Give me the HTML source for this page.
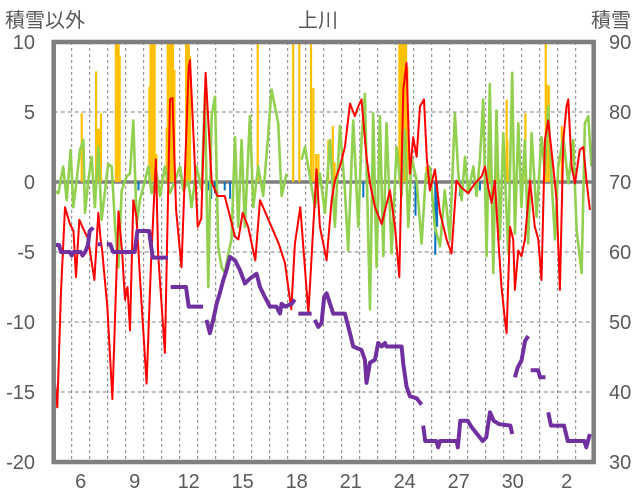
<!DOCTYPE html>
<html><head><meta charset="utf-8">
<style>
html,body{margin:0;padding:0;background:#fff;}
svg{display:block;}
text{font-family:"Liberation Sans","Noto Sans CJK JP",sans-serif;fill:#595959;font-size:20px;}
</style></head>
<body>
<svg id="chart" width="636" height="501" viewBox="0 0 636 501" xmlns="http://www.w3.org/2000/svg">
  <text x="5" y="27">積雪以外</text>
  <text x="318" y="27" text-anchor="middle">上川</text>
  <text x="631" y="27" text-anchor="end">積雪</text>
  <g id="grid"></g>
  <g id="bars"></g>
  <g id="lines"></g>
  <g id="axes"></g>
</svg>
<script>
// ---- data ----
const leftTicks = [10, 5, 0, -5, -10, -15, -20];
const rightTicks = [90, 80, 70, 60, 50, 40, 30];
const dayLabels = ["6","9","12","15","18","21","24","27","30","2"];
const dayLabelPos = [1,4,7,10,13,16,19,22,25,28]; // day index from start (day 5 = 0)

const redT = [0,0.2,0.4,0.63,0.9,1.1,1.24,1.42,1.7,1.9,2.26,2.48,2.6,2.7,2.98,3.26,3.6,3.8,3.96,4.1,4.24,4.42,4.6,4.8,5.16,5.4,5.68,5.8,6.18,6.46,6.6,6.8,7.1,7.5,7.57,8.0,8.2,8.44,8.78,9.1,9.5,9.8,10.07,10.26,10.5,10.8,11.2,11.46,11.7,12.1,12.5,12.85,13.2,13.4,13.7,14.15,14.6,14.79,15.16,15.44,15.62,15.9,16.18,16.46,16.73,16.92,17.1,17.38,17.57,17.85,18.22,18.68,18.96,19.2,19.42,19.6,19.79,19.97,20.16,20.35,20.57,20.72,20.9,21.18,21.46,21.83,22.1,22.38,22.66,23.03,23.4,23.77,23.96,24.14,24.33,24.51,24.7,24.88,25.07,25.16,25.35,25.53,25.62,25.81,25.99,26.18,26.46,26.73,26.92,27.1,27.29,27.47,27.75,27.94,28.12,28.31,28.49,28.59,28.77,28.96,29.23,29.42,29.6,29.79];
const redV = [-13.4,-16.1,-8,-1.8,-3,-3.5,-6.8,-2.7,-3.5,-4,-7,-2.2,-4,-5,-8.9,-15.5,-2.1,-5,-8.4,-7.5,-10.6,-1.3,-2.5,-7,-14.4,-6,1.6,-5.1,-12.2,5.9,6,-2,-6.1,8.2,8.7,-3.2,-2.6,7.8,0,-1,-1,-2.5,-3.9,-4.1,-2.2,-3.2,-5.6,-1.3,-2,-3.2,-4.4,-5.8,-9.1,-4.4,-1.8,-9.4,0.9,-3.2,-5.6,-1.3,0.1,1.1,2.5,5.6,4.7,5.4,5.9,1.8,-0.1,-1.8,-3,-0.6,-3.2,-6.8,6.6,8.5,0.6,3.2,1.8,5.4,5.9,1.8,-0.6,0.9,-2.2,-4.1,-5.1,0.1,-0.4,-0.8,-0.1,0.4,1.1,-0.4,-1.5,0.1,-4.1,-7.5,-9.9,-10.8,-3.2,-4.1,-7.7,-4.9,-5.3,-4.1,0.1,-3.2,-4.1,-7,3,4.4,1.1,-1.3,-7.7,3,5.4,5.9,1.1,-0.1,2.3,2.5,0.1,-2.0];

const greenT = [0,0.26,0.53,0.72,0.94,1.09,1.27,1.46,1.65,1.74,1.92,2.11,2.29,2.48,2.66,3.03,3.22,3.41,3.59,3.78,4.05,4.24,4.42,4.61,4.79,5.07,5.26,5.44,5.72,5.91,6.18,6.46,6.74,7.02,7.2,7.48,7.66,7.94,8.22,8.4,8.59,8.77,8.96,9.14,9.33,9.51,9.7,9.88,10.07,10.25,10.44,10.62,10.9,11.09,11.36,11.64,11.92,12.1,12.29,12.47,12.66,12.94,13.3,13.77,13.96,14.14,14.51,14.79,15.07,15.35,15.62,15.9,16.18,16.36,16.64,16.92,17.1,17.29,17.48,17.57,17.75,17.94,18.12,18.31,18.49,18.77,19.05,19.33,19.51,19.7,19.88,20.16,20.44,20.68,20.9,21.18,21.46,21.73,22.01,22.29,22.48,22.66,22.85,23.03,23.31,23.49,23.68,23.86,24.05,24.23,24.42,24.6,24.79,24.98,25.25,25.47,25.62,25.81,25.99,26.18,26.36,26.55,26.83,27.1,27.29,27.47,27.66,27.85,28.03,28.31,28.59,28.86,29.05,29.33,29.51,29.7,29.88];
const greenV = [-0.6,-0.8,1.1,-1.3,2.3,-1.8,0.1,2.3,3.0,-2.2,0.1,1.8,-1.8,2.5,-2.7,1.3,1.1,-3.2,-6.1,-0.6,0.4,0.6,4.4,-3.0,-1.3,0.1,1.1,-0.8,0.6,-1.0,1.1,-0.8,0.1,1.1,-0.6,0.1,-1.8,1.1,-0.6,6.3,-7.5,4.7,6.1,-4.6,-6.1,-6.5,-5.1,-4.1,3.2,-3.2,3.0,-3.2,4.7,-1.8,1.1,-1.0,3.5,6.6,5.4,4.2,-1.0,0.6,null,1.6,2.5,1.1,-1.8,0.6,-2.2,3.0,-3.2,4.0,-0.6,-4.9,4.4,-3.2,3.0,6.3,-4.1,-9.1,4.9,-6.1,4.7,-5.3,4.2,-5.1,2.5,-1.0,3.7,-3.2,1.8,0.1,-4.4,0.6,1.1,-3.2,-4.6,-0.6,-4.1,4.9,0.6,-1.3,1.8,-0.8,1.1,-1.0,1.6,5.9,-5.3,7.0,-6.5,5.1,-4.1,3.5,-5.1,7.8,-3.7,4.2,-1.8,3.0,-4.4,3.5,-2.5,3.2,0.6,5.4,0.1,-4.1,1.1,3.2,-0.1,3.0,-3.4,-6.5,4.2,4.7,1.1];

const snowT = [0,0.3,0.4,0.9,1.0,1.1,1.5,1.6,1.75,1.9,2.0,2.2,2.3,2.45,2.65,2.8,2.95,3.15,3.3,4.5,4.65,5.3,5.5,6.35,6.45,6.5,7.35,7.5,8.3,8.4,8.49,8.68,8.86,9.05,9.23,9.42,9.6,9.79,10.07,10.35,10.62,10.9,11.27,11.46,11.73,12.01,12.38,12.57,12.66,12.85,13.22,13.4,13.5,13.59,14.33,14.42,14.51,14.7,14.88,15.03,15.16,15.35,15.53,16.18,16.46,16.64,17.1,17.29,17.38,17.57,17.85,18.03,18.22,18.4,18.49,19.33,19.42,19.6,19.79,20.16,20.44,20.5,20.53,20.64,21.25,21.36,21.46,22.39,22.45,22.59,23.0,23.21,23.52,23.83,24.03,24.24,24.44,24.75,25.37,25.47,25.55,25.62,25.78,25.99,26.19,26.36,26.43,26.5,26.91,27.02,27.32,27.4,27.47,27.63,28.35,28.56,29.48,29.59,29.79];
const snowV = [61,61,60,60,59.5,60,60,59.5,60,61,63,63.5,null,61.1,61.1,null,61.1,61.1,60,60,63,63,59.2,59.2,null,55,55,52.2,52.2,null,50.3,48.4,50.3,52.6,54.1,56,57.4,59.3,58.8,57.4,55.5,56.2,56.9,55,53.6,52.2,52.2,51.2,52.6,52.2,52.6,53.2,null,51.2,51.2,null,50.3,49.3,49.8,53.6,54.1,52.6,51.2,51.2,48.4,46.5,46,44.6,41.3,44.2,44.6,47,46.5,47,46.5,46.5,44,40.8,39.4,39.1,38.2,null,35.2,33,33,32.1,33,33,32.1,35.9,35.9,35,34,33,33.5,37.1,35.9,35.4,35.2,34,null,42.1,43.5,44.5,47.3,48,null,43.1,43.1,42.1,42.1,null,37.1,35.2,35.2,33,33,32.1,34];

const rainT = [1.55,2.35,2.45,2.55,2.62,3.45,3.52,3.6,3.66,5.31,5.38,5.45,5.52,5.6,5.7,6.27,6.33,6.4,6.47,6.55,6.62,6.7,7.35,7.42,7.5,7.57,11.33,13.3,13.64,14.29,14.42,14.57,14.7,15.25,15.5,15.6,19.2,19.27,19.35,19.42,19.5,19.57,19.64,20.7,24.23,24.6,25.16,25.2,26.2,27.33,27.38,27.5,28.22];
const rainV = [4.9,7.9,3.8,3.8,4.9,10,10,10,9,6.8,10,10,10,10,2,3.9,10,10,10,10,10,8,10,10,10,9,10,10,10,10,6.7,2,2,3,4,1.4,10,10,10,10,10,10,8.2,1.1,4,2,5.9,3,4.9,10,7,6.9,4];

const meltT = [4.71,8.5,8.6,8.75,8.96,9.5,9.8,17.2,17.4,20.1,21.2,21.3,22.57,23.68,25.99];
const meltV = [-0.6,-0.8,-0.6,-1.2,-0.8,-0.6,-1.2,-1.1,-0.6,-2.4,-5.2,-3.2,-1.0,-0.6,-0.8];

// ---- scales ----
const X0 = 53.7, DX = 18, Y0 = 182, PX = 14; // px per unit (left axis)
const xs = t => X0 + t * DX;
const yL = v => Y0 - v * PX;
const yR = r => yL((r - 70) / 2);
const NS = "http://www.w3.org/2000/svg";
function mk(tag, parent, attrs){ const e=document.createElementNS(NS,tag); for(const k in attrs) e.setAttribute(k,attrs[k]); parent.appendChild(e); return e; }

const grid = document.getElementById('grid');
const axes = document.getElementById('axes');
const bars = document.getElementById('bars');
const lines = document.getElementById('lines');

// vertical day gridlines
for(let k=1;k<30;k++){
  const l = mk('line', grid, {x1:xs(k),x2:xs(k),y1:yL(10),y2:yL(-20),stroke:'#7f7f7f','stroke-width':1,'stroke-dasharray':'3,3'});
  
  
}
// horizontal gridlines
leftTicks.forEach(v=>{
  if(v===10||v===-20||v===0) return;
  const l = mk('line', grid, {x1:xs(0),x2:xs(30),y1:yL(v),y2:yL(v),stroke:'#7f7f7f','stroke-width':1,'stroke-dasharray':'4,3'});
  
  
});
// zero line
const zl = mk('line', grid, {x1:xs(0),x2:xs(30),y1:yL(0),y2:yL(0),stroke:'#7f7f7f','stroke-width':3.5});



// bars
rainT.forEach((t,i)=>{
  const y = yL(Math.min(rainV[i],10));
  const r = mk('rect', bars, {x:xs(t)-1,y:y,width:2.2,height:yL(0)-y,fill:'#ffc000'});
  
  
});
meltT.forEach((t,i)=>{
  const r = mk('rect', bars, {x:xs(t)-1,y:yL(0),width:2,height:yL(meltV[i])-yL(0),fill:'#0070c0'});
  
  
});

function pathFrom(T,V,ymap){
  let d='', pen=false;
  T.forEach((t,i)=>{
    const v=V[i];
    if(v===null||v===undefined){pen=false;return;}
    d += (pen?'L':'M') + xs(t).toFixed(1) + ',' + ymap(v).toFixed(1) + ' ';
    pen=true;
  });
  return d;
}
const g = mk('path', lines, {d:pathFrom(greenT,greenV,yL),fill:'none',stroke:'#92d050','stroke-width':2.6,'stroke-linejoin':'round'});


const rd = mk('path', lines, {d:pathFrom(redT,redV,yL),fill:'none',stroke:'#ff0000','stroke-width':2,'stroke-linejoin':'round'});


const sn = mk('path', lines, {d:pathFrom(snowT,snowV,yR),fill:'none',stroke:'#7030a0','stroke-width':4,'stroke-linejoin':'round'});



// frame
const fr = mk('rect', axes, {x:xs(0),y:yL(10),width:xs(30)-xs(0),height:yL(-20)-yL(10),fill:'none',stroke:'#7f7f7f','stroke-width':4.5});



// tick labels
leftTicks.forEach(v=>{
  const t = mk('text', axes, {x:35,y:yL(v)+7,'text-anchor':'end'});
  t.textContent = String(v);
  
  
});
rightTicks.forEach(r=>{
  const t = mk('text', axes, {x:609,y:yR(r)+7});
  t.textContent = String(r);
  
  
});
dayLabels.forEach((s,i)=>{
  const t = mk('text', axes, {x:xs(dayLabelPos[i]+0.5),y:488,'text-anchor':'middle'});
  t.textContent = s;
  
  
});
</script>
</body></html>
